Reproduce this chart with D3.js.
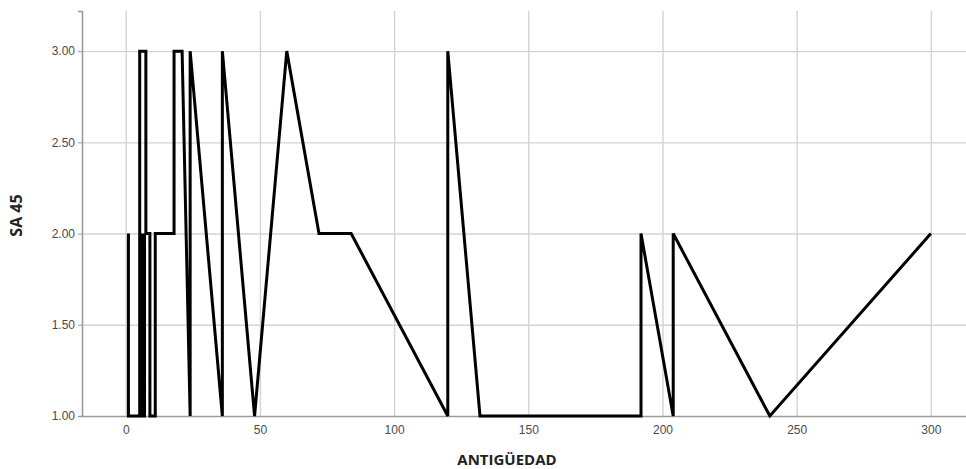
<!DOCTYPE html>
<html>
<head>
<meta charset="utf-8">
<script src="https://cdn.jsdelivr.net/npm/d3@7/dist/d3.min.js"></script>
<style>
  html, body { margin: 0; padding: 0; background: #fff; }
  svg { display: block; }
  .grid line { stroke: #d3d3d3; stroke-width: 1.4px; }
  .grid path { display: none; }
  .axis text { font-family: "Liberation Sans", Arial, sans-serif; font-size: 12px; fill: #4a4a4a; }
  .title { font-family: "Open Sans", "Liberation Sans", sans-serif; font-weight: bold; fill: #222; }
</style>
</head>
<body>
<svg id="chart" width="966" height="469"></svg>
<script>
// Antigüedad (months) and SA 45 score, in drawing order
const antiguedad = [1, 1, 5.9, 6.3, 6.7, 7.0, 7.0, 5.2, 5.2, 7.5, 7.5, 9, 9, 11, 11, 18, 18, 21, 24, 24, 36, 36, 48, 60, 72, 84, 120, 120, 132, 192, 192, 204, 204, 240, 300];
const sa45       = [2, 1, 1,   2,   1,   2,   1,   1,   3,   3,   2,   2, 1, 1,  2,  2,  3,  3,  1,  3,  1,  3,  1,  3,  2,  2,  1,   3,   1,   1,   2,   1,   2,   1,   2];

const xTicks = [0, 50, 100, 150, 200, 250, 300];
const yTicks = [1.0, 1.5, 2.0, 2.5, 3.0];

const xTitle = "ANTIGÜEDAD";
const yTitle = "SA 45";

const svg = d3.select("#chart");
const plotL = 82, plotR = 966, plotT = 11, plotB = 416;

const x = d3.scaleLinear().domain([-16.3, 313.1]).range([plotL, plotR]);
const y = d3.scaleLinear().domain([1, 3.22]).range([plotB, plotT]);

// grid lines
svg.append("g")
  .attr("class", "grid")
  .attr("transform", `translate(0,${plotB})`)
  .call(d3.axisBottom(x).tickValues(xTicks).tickSize(-(plotB - plotT)).tickFormat(""));

svg.append("g")
  .attr("class", "grid")
  .attr("transform", `translate(${plotL},0)`)
  .call(d3.axisLeft(y).tickValues(yTicks.filter(d => d > 1)).tickSize(-(plotR - plotL)).tickFormat(""));

// axes
const xAxis = svg.append("g")
  .attr("class", "axis")
  .attr("transform", `translate(0,${plotB})`)
  .call(d3.axisBottom(x).tickValues(xTicks).tickSize(0).tickPadding(9).tickFormat(d3.format("d")));
xAxis.select(".domain").attr("stroke", "#9a9a9a").attr("stroke-width", 1.6);

const yAxis = svg.append("g")
  .attr("class", "axis")
  .attr("transform", `translate(${plotL},0)`)
  .call(d3.axisLeft(y).tickValues(yTicks).tickSize(4).tickPadding(3).tickFormat(d3.format(".2f")));
yAxis.select(".domain").attr("stroke", "#9a9a9a").attr("stroke-width", 1.6);
yAxis.selectAll(".tick line").attr("stroke", "#9a9a9a");

// data line
const pts = antiguedad.map((d, i) => [d, sa45[i]]);
svg.append("path")
  .datum(pts)
  .attr("fill", "none")
  .attr("stroke", "#000")
  .attr("stroke-width", 3)
  .attr("stroke-linejoin", "miter")
  .attr("d", d3.line().x(d => x(d[0])).y(d => y(d[1])));

// axis titles
svg.append("text")
  .attr("class", "title")
  .attr("x", 507)
  .attr("y", 465)
  .attr("text-anchor", "middle")
  .attr("font-size", 15)
  .text(xTitle);

svg.append("text")
  .attr("class", "title")
  .attr("transform", `translate(22,${(plotT + plotB) / 2 + 2}) rotate(-90)`)
  .attr("text-anchor", "middle")
  .attr("font-size", 16)
  .text(yTitle);
</script>
</body>
</html>
